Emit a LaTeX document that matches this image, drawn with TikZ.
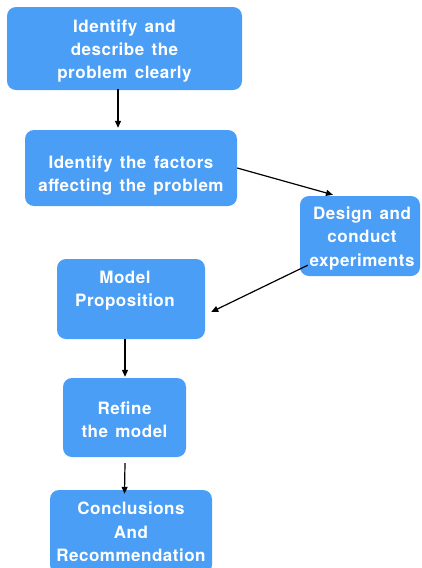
\documentclass[tikz,border=0pt]{standalone}
\usepackage{fontspec}
\setmainfont{TeX Gyre Heros}[LetterSpace=3,WordSpace=1.4]
\usetikzlibrary{arrows.meta,calc}
\definecolor{boxblue}{RGB}{74,158,245}
\tikzset{
  box/.style={fill=boxblue, draw=none, rounded corners=9pt, inner sep=0pt},
  lbl/.style={text=white, align=center, font=\fontsize{17}{23.3}\selectfont\bfseries, inner sep=0pt},
  conn/.style={line width=1.2pt, -{Triangle[length=7pt,width=6pt]}}
}
\begin{document}
\begin{tikzpicture}[x=1pt,y=-1pt]
\useasboundingbox (0,0) rectangle (421,568);
% boxes
\node[box, minimum width=235pt, minimum height=83pt] (b1) at (124.5,48.5) {};
\node[box, minimum width=212pt, minimum height=76pt] (b2) at (131,168) {};
\node[box, minimum width=120pt, minimum height=80pt] (b3) at (360,236) {};
\node[box, minimum width=148pt, minimum height=80pt] (b4) at (131,299) {};
\node[box, minimum width=123pt, minimum height=79pt] (b5) at (124.5,417.5) {};
\node[box, minimum width=162pt, minimum height=84pt] (b6) at (131,532) {};
% labels
\node[lbl] (t1) at (124.5,51) {Identify and\\describe the\\problem clearly};
\node[lbl] (t2) at (131,175.5) {Identify the factors\\affecting the problem};
\node[lbl] (t3) at (362,238.5) {Design and\\conduct\\experiments};
\node[lbl] (t4) at (125,291) {Model\\Proposition};
\node[lbl] (t5) at (124.5,419.5) {Refine\\the model};
\node[lbl] (t6) at (131,532) {Conclusions\\And\\Recommendation};
% connectors
\draw[conn] ($(b1.south)+(-6.5,-1)$) -- ($(b2.north)+(-13,-2)$);
\draw[conn] (b2.east) -- ($(b3.north)+(-27,-1)$);
\draw[conn] ($(b3.south west)+(8,-11)$) -- ($(b4.east)+(6,13)$);
\draw[conn] ($(b4.south)+(-6,0)$) -- ($(b5.north)+(0.5,-1)$);
\draw[conn] ($(b5.south)+(0.5,6)$) -- ($(b6.north)+(-6.5,4)$);
\end{tikzpicture}
\end{document}
